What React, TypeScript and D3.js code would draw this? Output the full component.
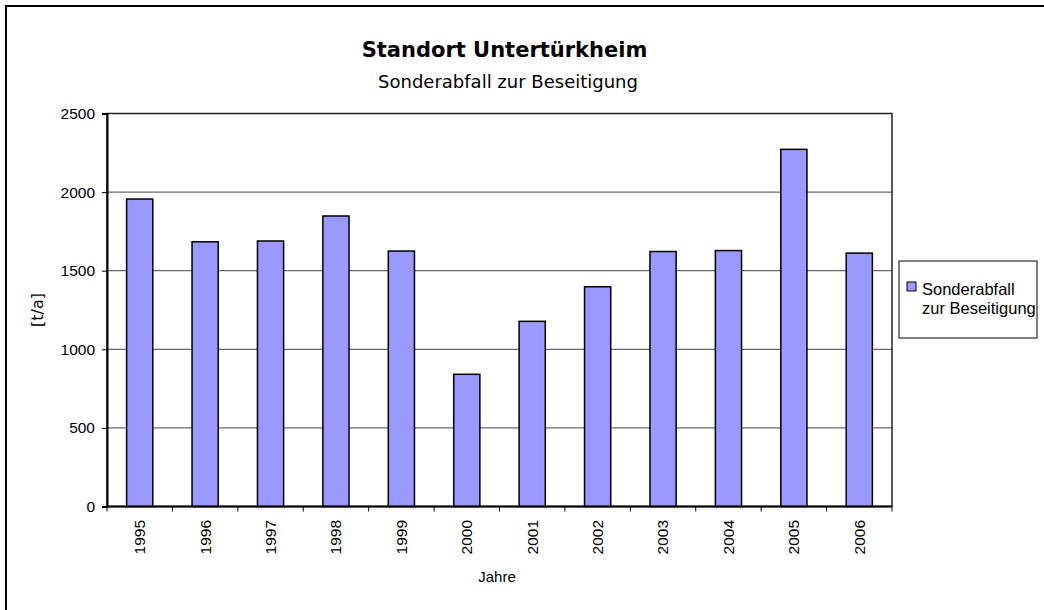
import React, { useEffect, useRef } from "react";
import * as d3 from "d3";

const years = ["1995", "1996", "1997", "1998", "1999", "2000", "2001", "2002", "2003", "2004", "2005", "2006"];
const values = [1956, 1684, 1689, 1848, 1625, 841, 1178, 1398, 1622, 1628, 2272, 1612];
const yTicks = [0, 500, 1000, 1500, 2000, 2500];

const title = "Standort Untertürkheim";
const subtitle = "Sonderabfall zur Beseitigung";
const legendLines = ["Sonderabfall", "zur Beseitigung"];

const App = () => {
  const svgRef = useRef<SVGSVGElement>(null);

  useEffect(() => {
    const width = 1044;
    const height = 610;
    const plot = { left: 107, right: 892, top: 113.5, bottom: 506.5 };
    const font = "'DejaVu Sans', sans-serif";
    const labelFont = "'Liberation Sans', Arial, sans-serif";
    const barColor = "#9999FF";

    const svg = d3.select(svgRef.current);
    svg.selectAll("*").remove();
    svg.attr("viewBox", [0, 0, width, height]).style("font-family", font);

    // outer frame (only top/left visible)
    svg
      .append("rect")
      .attr("x", 6)
      .attr("y", 6)
      .attr("width", 1200)
      .attr("height", 800)
      .attr("fill", "#fff")
      .attr("stroke", "#000")
      .attr("stroke-width", 2);

    const x = d3
      .scaleBand()
      .domain(years)
      .range([plot.left, plot.right])
      .paddingInner(0.6)
      .paddingOuter(0.3);

    const y = d3.scaleLinear().domain([0, 2500]).range([plot.bottom, plot.top]);

    // gridlines
    svg
      .append("g")
      .selectAll("line")
      .data(yTicks.filter((t) => t > 0 && t < 2500))
      .join("line")
      .attr("x1", plot.left)
      .attr("x2", plot.right)
      .attr("y1", (d) => y(d))
      .attr("y2", (d) => y(d))
      .attr("stroke", "#444")
      .attr("stroke-width", 1);

    // plot border
    svg
      .append("rect")
      .attr("x", plot.left)
      .attr("y", plot.top)
      .attr("width", plot.right - plot.left)
      .attr("height", plot.bottom - plot.top)
      .attr("fill", "none")
      .attr("stroke", "#222")
      .attr("stroke-width", 1.5);

    // bars
    svg
      .append("g")
      .selectAll("rect")
      .data(values)
      .join("rect")
      .attr("x", (d, i) => x(years[i])!)
      .attr("y", (d) => y(d))
      .attr("width", x.bandwidth())
      .attr("height", (d) => y(0) - y(d))
      .attr("fill", barColor)
      .attr("stroke", "#000")
      .attr("stroke-width", 1.5);

    // Y axis
    const yAxis = svg
      .append("g")
      .attr("transform", `translate(${plot.left},0)`)
      .call(d3.axisLeft(y).tickValues(yTicks).tickSize(5).tickPadding(7).tickFormat(d3.format("d")));
    yAxis.select(".domain").attr("stroke", "#000").attr("stroke-width", 2);
    yAxis.selectAll("line").attr("stroke", "#000");
    yAxis.selectAll("text").attr("fill", "#000").style("font-size", "15.5px").style("font-family", labelFont);

    // X axis
    const step = x.step();
    const xAxis = svg.append("g").attr("transform", `translate(0,${plot.bottom})`);
    xAxis
      .append("line")
      .attr("x1", plot.left)
      .attr("x2", plot.right)
      .attr("stroke", "#000")
      .attr("stroke-width", 2);
    xAxis
      .selectAll("line.tick")
      .data(d3.range(years.length + 1))
      .join("line")
      .attr("class", "tick")
      .attr("x1", (i) => plot.left + i * step)
      .attr("x2", (i) => plot.left + i * step)
      .attr("y1", 0)
      .attr("y2", 5)
      .attr("stroke", "#000");
    xAxis
      .selectAll("text")
      .data(years)
      .join("text")
      .attr("transform", (d) => `translate(${x(d)! + x.bandwidth() / 2},13.5) rotate(-90)`)
      .attr("dy", "0.35em")
      .attr("text-anchor", "end")
      .attr("fill", "#000")
      .style("font-size", "15.5px")
      .style("font-family", labelFont)
      .text((d) => d);

    // axis titles
    svg
      .append("text")
      .attr("x", 497)
      .attr("y", 582)
      .attr("text-anchor", "middle")
      .style("font-size", "15px")
      .style("font-family", labelFont)
      .attr("fill", "#000")
      .text("Jahre");
    svg
      .append("text")
      .attr("transform", `translate(37,${(plot.top + plot.bottom) / 2}) rotate(-90)`)
      .attr("dy", "0.35em")
      .attr("text-anchor", "middle")
      .style("font-size", "16px")
      .attr("fill", "#000")
      .text("[t/a]");

    // titles
    svg
      .append("text")
      .attr("x", 504.5)
      .attr("y", 56.5)
      .attr("text-anchor", "middle")
      .style("font-size", "21px")
      .style("font-weight", "bold")
      .attr("fill", "#000")
      .text(title);
    svg
      .append("text")
      .attr("x", 508)
      .attr("y", 88.3)
      .attr("text-anchor", "middle")
      .style("font-size", "18px")
      .attr("fill", "#000")
      .text(subtitle);

    // legend
    const legend = svg.append("g");
    legend
      .append("rect")
      .attr("x", 899)
      .attr("y", 261)
      .attr("width", 138)
      .attr("height", 77)
      .attr("fill", "#fff")
      .attr("stroke", "#000")
      .attr("stroke-width", 1);
    legend
      .append("rect")
      .attr("x", 907)
      .attr("y", 282)
      .attr("width", 9)
      .attr("height", 9)
      .attr("fill", barColor)
      .attr("stroke", "#000")
      .attr("stroke-width", 1);
    legend
      .selectAll("text")
      .data(legendLines)
      .join("text")
      .attr("x", 922)
      .attr("y", (d, i) => 295 + i * 19)
      .style("font-size", "16.5px")
      .style("font-family", labelFont)
      .attr("fill", "#000")
      .text((d) => d);
  }, []);

  return (
    <svg
      ref={svgRef}
      width={1044}
      height={610}
      style={{ position: "absolute", left: 0, top: 0, background: "#fff" }}
    />
  );
};

export default App;
